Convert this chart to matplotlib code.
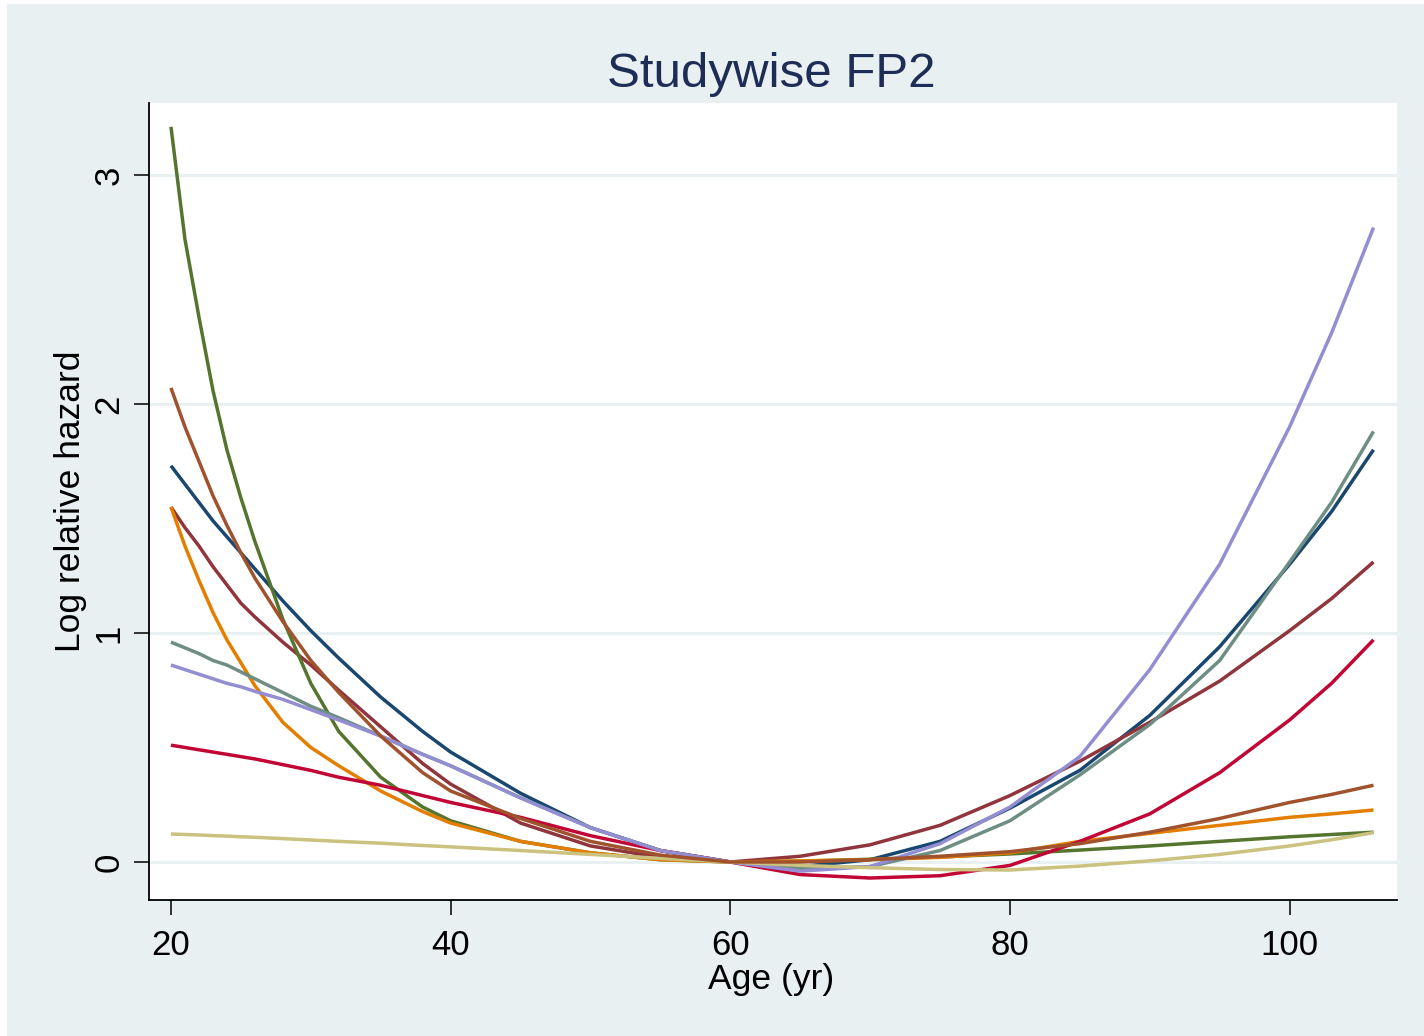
import matplotlib
matplotlib.use("Agg")
import matplotlib.pyplot as plt
from matplotlib.patches import Rectangle

# values, log relative hazard by age
ages = [20, 21, 22, 23, 24, 25, 26, 28, 30, 32, 35, 38, 40, 45, 50, 55, 60,
        65, 70, 75, 80, 85, 90, 95, 100, 103, 106]

navy = [1.73, 1.65, 1.57, 1.49, 1.42, 1.35, 1.28, 1.14, 1.01, 0.89, 0.72, 0.57, 0.48, 0.30, 0.15, 0.05, 0.0,
        -0.02, 0.01, 0.09, 0.235, 0.40, 0.64, 0.94, 1.30, 1.53, 1.80]
maroon = [1.55, 1.46, 1.38, 1.29, 1.21, 1.13, 1.07, 0.96, 0.86, 0.75, 0.59, 0.43, 0.34, 0.17, 0.07, 0.02, 0.0,
          0.025, 0.075, 0.16, 0.29, 0.44, 0.61, 0.79, 1.01, 1.15, 1.31]
green = [3.21, 2.72, 2.38, 2.06, 1.80, 1.59, 1.40, 1.06, 0.78, 0.57, 0.37, 0.24, 0.18, 0.09, 0.04, 0.01, 0.0,
         0.003, 0.012, 0.022, 0.035, 0.052, 0.07, 0.09, 0.11, 0.12, 0.13]
orange = [1.55, 1.38, 1.23, 1.09, 0.97, 0.87, 0.77, 0.61, 0.50, 0.42, 0.31, 0.22, 0.17, 0.09, 0.04, 0.01, 0.0,
          0.005, 0.01, 0.02, 0.04, 0.09, 0.125, 0.16, 0.195, 0.21, 0.227]
teal = [0.96, 0.935, 0.91, 0.88, 0.86, 0.83, 0.80, 0.74, 0.68, 0.63, 0.55, 0.47, 0.42, 0.28, 0.15, 0.05, 0.0,
        -0.03, -0.02, 0.05, 0.18, 0.38, 0.60, 0.88, 1.31, 1.57, 1.88]
lavender = [0.86, 0.84, 0.82, 0.80, 0.78, 0.765, 0.745, 0.71, 0.665, 0.62, 0.55, 0.47, 0.42, 0.28, 0.15, 0.05, 0.0,
            -0.04, -0.02, 0.08, 0.24, 0.46, 0.84, 1.30, 1.90, 2.31, 2.77]
cranberry = [0.51, 0.50, 0.49, 0.48, 0.47, 0.46, 0.45, 0.425, 0.40, 0.37, 0.335, 0.29, 0.26, 0.195, 0.115, 0.05, 0.0,
             -0.055, -0.07, -0.06, -0.015, 0.09, 0.21, 0.39, 0.62, 0.78, 0.97]
khaki = [0.122, 0.12, 0.118, 0.115, 0.113, 0.11, 0.108, 0.102, 0.096, 0.09, 0.082, 0.072, 0.066, 0.05, 0.033, 0.016, 0.0,
         -0.015, -0.025, -0.033, -0.035, -0.018, 0.005, 0.033, 0.07, 0.097, 0.128]
sienna = [2.07, 1.90, 1.75, 1.60, 1.47, 1.35, 1.24, 1.05, 0.88, 0.74, 0.55, 0.39, 0.31, 0.19, 0.09, 0.03, 0.0,
          0.0, 0.01, 0.025, 0.045, 0.08, 0.13, 0.19, 0.26, 0.295, 0.335]

series = [navy, maroon, green, orange, teal, cranberry, lavender, khaki, sienna]
# stata s2color order
colors = ["#1A476F", "#90353B", "#55752F", "#E37E00", "#6E8E84",
          "#C10534", "#938DD2", "#CAC27E", "#A0522D"]

xticks = [20, 40, 60, 80, 100]
yticks = [0, 1, 2, 3]

bg = "#E8F0F2"
W, H = 1424, 1036

plt.rcParams["font.family"] = ["Liberation Sans", "DejaVu Sans"]

fig = plt.figure(figsize=(W / 100, H / 100), dpi=100, facecolor="white")
fig.patches.append(Rectangle((7 / W, 0), 1, 1 - 4 / H, transform=fig.transFigure,
                             facecolor=bg, edgecolor="none", zorder=-5))

ax = fig.add_axes([149 / W, 1 - 900 / H, (1397 - 149) / W, (900 - 103) / H])
ax.set_zorder(2)
ax.set_facecolor("white")

for vals, c in zip(series, colors):
    ax.plot(ages, vals, color=c, lw=2.5, solid_capstyle="butt", solid_joinstyle="round")

ax.set_xlim(18.43, 107.68)
ax.set_ylim(-0.166, 3.314)
ax.set_xticks(xticks)
ax.set_yticks(yticks)
ax.grid(axis="y", color=bg, lw=2.2)
ax.set_axisbelow(True)

for s in ["top", "right"]:
    ax.spines[s].set_visible(False)
for s in ["left", "bottom"]:
    ax.spines[s].set_linewidth(1.3)
    ax.spines[s].set_color("black")

ax.tick_params(axis="both", direction="out", length=11, width=1.1, labelsize=25)
ax.tick_params(axis="x", pad=10)
ax.tick_params(axis="y", pad=6, labelrotation=90)
for lab in ax.get_yticklabels():
    lab.set_va("center")

fig.text(771.5 / W, 1 - 87 / H, "Studywise FP2", ha="center", va="baseline",
         fontsize=35.5, color="#1E2D55")
fig.text(771.5 / W, 1 - 989 / H, "Age (yr)", ha="center", va="baseline", fontsize=25.5)
fig.text(80 / W, 1 - 501 / H, "Log relative hazard", ha="center", va="baseline",
         rotation=90, rotation_mode="anchor", fontsize=25.5)

fig.savefig("out.png", dpi=100, facecolor="white")
